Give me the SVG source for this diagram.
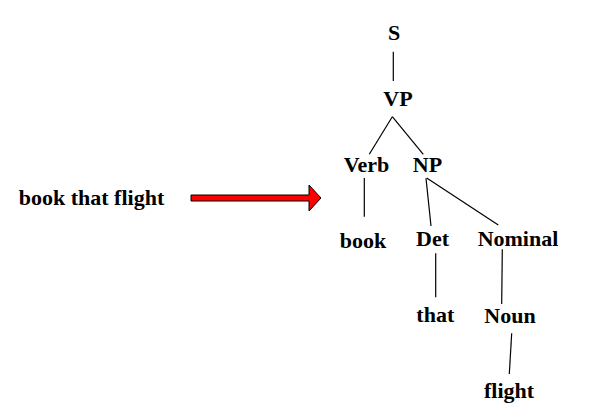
<svg xmlns="http://www.w3.org/2000/svg" width="608" height="419" viewBox="0 0 608 419">
<style>
text{font-family:"Liberation Serif","Times New Roman",serif;font-weight:bold;font-size:22px;fill:#000;text-anchor:middle}
.e line{stroke:#000;stroke-width:1.2}
</style>
<rect width="608" height="419" fill="#fff"/>
<g id="input"><text x="91.5" y="205">book that flight</text></g>
<g id="arrow"><polygon points="191,195 309,195 309,185 321,198 309,211 309,201 191,201" fill="#ff0000" stroke="#000" stroke-width="1"/></g>
<g class="e" id="connectors">
<line x1="393.3" y1="51.7" x2="393.3" y2="81"/>
<line x1="392.3" y1="116.7" x2="369.3" y2="154.3"/>
<line x1="392.3" y1="116.7" x2="423.3" y2="154.3"/>
<line x1="364.3" y1="178" x2="364.3" y2="216.7"/>
<line x1="426" y1="178.3" x2="431" y2="226"/>
<line x1="426.7" y1="178" x2="498.3" y2="225"/>
<line x1="435.7" y1="253.3" x2="435.7" y2="297.3"/>
<line x1="502.3" y1="249.3" x2="501.7" y2="304"/>
<line x1="511.7" y1="333.3" x2="509.3" y2="374"/>
</g>
<g id="S"><text x="394" y="40">S</text></g>
<g id="VP"><text x="398" y="105.7">VP</text></g>
<g id="Verb"><text x="366.5" y="172.3">Verb</text></g>
<g id="NP"><text x="427.5" y="172.3">NP</text></g>
<g id="book"><text x="363" y="247.7">book</text></g>
<g id="Det"><text x="432.5" y="246">Det</text></g>
<g id="Nominal"><text x="518" y="246">Nominal</text></g>
<g id="that"><text x="435.3" y="321.7">that</text></g>
<g id="Noun"><text x="510" y="323.3">Noun</text></g>
<g id="flight"><text x="509" y="398.3">flight</text></g>
</svg>
